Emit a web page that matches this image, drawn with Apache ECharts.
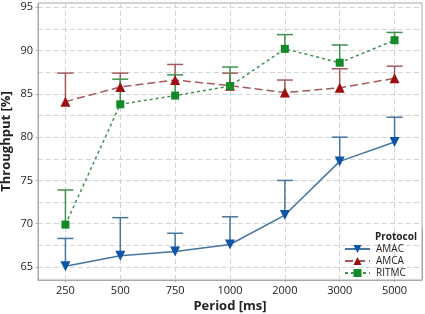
<!DOCTYPE html>
<html>
<head>
<meta charset="utf-8">
<script src="https://cdn.jsdelivr.net/npm/echarts@6/dist/echarts.min.js"></script>
<style>
  html, body { margin: 0; padding: 0; background: #fff; }
  #chart { width: 425px; height: 314px; }
</style>
</head>
<body>
<div id="chart"></div>
<script>
var periods = ['250', '500', '750', '1000', '2000', '3000', '5000']
var amac = [65.1, 66.3, 66.8, 67.6, 71.0, 77.2, 79.45]
var amacTop = [68.3, 70.7, 68.9, 70.8, 75.0, 80.0, 82.3]
var amca = [84.1, 85.8, 86.6, 85.95, 85.15, 85.7, 86.8]
var amcaTop = [87.4, 87.4, 88.4, 87.4, 86.6, 87.9, 88.2]
var ritmc = [69.9, 83.8, 84.8, 85.9, 90.2, 88.6, 91.2]
var ritmcTop = [73.9, 86.7, 87.2, 88.1, 91.85, 90.65, 92.1]
var yGrid = [65, 67.5, 70, 72.5, 75, 77.5, 80, 82.5, 85, 87.5, 90, 92.5, 95]
var yLabels = [65, 70, 75, 80, 85, 90, 95]

var font = 'Open Sans'

// upper-only error bar: stem from mean up to top, with a cap
function errBars(name, vals, tops, color) {
    return {
        type: 'custom',
        name: name,
        z: 1,
        silent: true,
        data: vals.map(function (v, i) { return [i, v, tops[i]] }),
        renderItem: function (params, api) {
            var p0 = api.coord([api.value(0), api.value(1)])
            var p1 = api.coord([api.value(0), api.value(2)])
            var st = { stroke: color, lineWidth: 1.5 }
            return {
                type: 'group',
                children: [
                    { type: 'line', shape: { x1: p0[0], y1: p0[1], x2: p1[0], y2: p1[1] }, style: st },
                    { type: 'line', shape: { x1: p1[0] - 8, y1: p1[1], x2: p1[0] + 8, y2: p1[1] }, style: st }
                ]
            }
        }
    }
}

var chart = echarts.init(document.getElementById('chart'))
var option = {
    animation: false,
    textStyle: { fontFamily: font },
    grid: {
        left: 38, right: 3, top: 3, bottom: 34,
        outerBoundsMode: 'none',
        containLabel: false,
        show: true, borderColor: '#a8a8a8', borderWidth: 1, backgroundColor: '#fff'
    },
    xAxis: {
        type: 'category',
        data: periods,
        name: 'Period [ms]',
        nameLocation: 'middle',
        nameGap: 20,
        nameMoveOverlap: false,
        nameTextStyle: { fontSize: 13, fontWeight: 'bold', color: '#222', fontFamily: font },
        axisLine: { lineStyle: { color: '#a8a8a8' } },
        axisTick: { show: true, alignWithLabel: true, length: 2, lineStyle: { color: '#a8a8a8' } },
        axisLabel: { color: '#222', fontSize: 11, margin: 5 },
        splitLine: { show: true, alignWithLabel: true, lineStyle: { color: '#d4d4d4', type: [5, 3] } }
    },
    yAxis: [{
        type: 'value',
        min: 63.5,
        max: 95.5,
        name: 'Throughput [%]',
        nameLocation: 'middle',
        nameGap: 25,
        nameMoveOverlap: false,
        nameTextStyle: { fontSize: 13, fontWeight: 'bold', color: '#222', fontFamily: font },
        axisLine: { show: true, lineStyle: { color: '#a8a8a8' } },
        axisTick: { show: true, length: 2, customValues: yLabels, lineStyle: { color: '#a8a8a8' } },
        axisLabel: { color: '#222', fontSize: 11, margin: 5, customValues: yLabels },
        splitLine: { show: false }
    }, {
        // unlabelled twin axis carrying the dashed grid every 2.5
        type: 'value', min: 63.5, max: 95.5, position: 'left',
        axisLine: { show: false }, axisLabel: { show: false },
        axisTick: { show: false, customValues: yGrid },
        splitLine: { show: true, lineStyle: { color: '#d4d4d4', type: [5, 3] } }
    }],
    legend: {
        data: ['AMAC', 'AMCA', 'RITMC'],
        orient: 'vertical',
        left: 344,
        top: 244,
        padding: 0,
        itemGap: 2,
        itemWidth: 25,
        itemHeight: 10,
        textStyle: { fontSize: 10, color: '#222', fontFamily: font, padding: [0, 0, 0, 1] }
    },
    graphic: [{
        type: 'rect',
        left: 341,
        top: 228,
        z: -1,
        shape: { width: 81, height: 51 },
        style: { fill: '#fff', stroke: '#a0a0a0', lineWidth: 1 }
    }, {
        type: 'text',
        left: 375,
        top: 232,
        z: 100,
        style: { text: 'Protocol', fontSize: 10, fontWeight: 'bold', fill: '#222', fontFamily: font }
    }],
    series: [
        errBars('amacErr', amac, amacTop, '#46759f'),
        errBars('amcaErr', amca, amcaTop, '#a45a5a'),
        errBars('ritmcErr', ritmc, ritmcTop, '#3e9150'),
        {
            name: 'AMAC', type: 'line', data: amac, z: 3,
            symbol: 'triangle', symbolRotate: 180, symbolSize: 10,
            itemStyle: { color: '#0d56a6' },
            lineStyle: { color: '#46759f', width: 1.5, type: 'solid' }
        },
        {
            name: 'AMCA', type: 'line', data: amca, z: 3,
            symbol: 'triangle', symbolSize: 10,
            itemStyle: { color: '#9c0f0f' },
            lineStyle: { color: '#a45a5a', width: 1.5, type: [8, 4] }
        },
        {
            name: 'RITMC', type: 'line', data: ritmc, z: 4,
            symbol: 'rect', symbolSize: 8,
            itemStyle: { color: '#138a28' },
            lineStyle: { color: '#3e9150', width: 1.5, type: [3, 3] }
        }
    ]
}
chart.setOption(option)
</script>
</body>
</html>
